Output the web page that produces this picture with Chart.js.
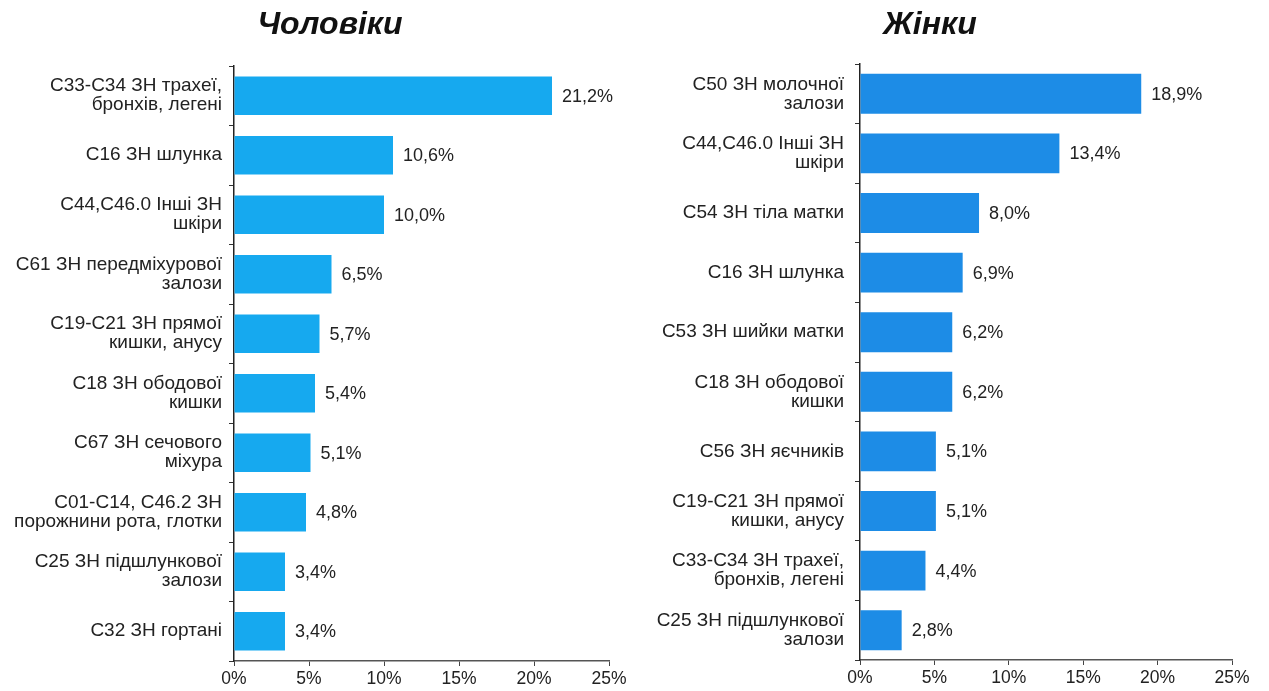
<!DOCTYPE html>
<html>
<head>
<meta charset="utf-8">
<script src="https://cdn.jsdelivr.net/npm/chart.js@4/dist/chart.umd.min.js"></script>
<style>
  html, body { margin: 0; padding: 0; background: #fff; }
  #wrap { position: relative; width: 1269px; height: 691px; }
  #menBox { position: absolute; left: 0; top: 0; width: 634px; height: 691px; }
  #womenBox { position: absolute; left: 634px; top: 0; width: 635px; height: 691px; }
</style>
</head>
<body>
<div id="wrap">
  <div id="menBox"><canvas id="menChart"></canvas></div>
  <div id="womenBox"><canvas id="womenChart"></canvas></div>
</div>
<script>
// Data
const menLabels = [
  ['С33-С34 ЗН трахеї,', 'бронхів, легені'],
  'С16 ЗН шлунка',
  ['С44,С46.0 Інші ЗН', 'шкіри'],
  ['С61 ЗН передміхурової', 'залози'],
  ['С19-С21 ЗН прямої', 'кишки, анусу'],
  ['С18 ЗН ободової', 'кишки'],
  ['С67 ЗН сечового', 'міхура'],
  ['С01-С14, С46.2 ЗН', 'порожнини рота, глотки'],
  ['С25 ЗН підшлункової', 'залози'],
  'С32 ЗН гортані'
];
const menValues = [21.2, 10.6, 10.0, 6.5, 5.7, 5.4, 5.1, 4.8, 3.4, 3.4];

const womenLabels = [
  ['С50 ЗН молочної', 'залози'],
  ['С44,С46.0 Інші ЗН', 'шкіри'],
  'С54 ЗН тіла матки',
  'С16 ЗН шлунка',
  'С53 ЗН шийки матки',
  ['С18 ЗН ободової', 'кишки'],
  'С56 ЗН яєчників',
  ['С19-С21 ЗН прямої', 'кишки, анусу'],
  ['С33-С34 ЗН трахеї,', 'бронхів, легені'],
  ['С25 ЗН підшлункової', 'залози']
];
const womenValues = [18.9, 13.4, 8.0, 6.9, 6.2, 6.2, 5.1, 5.1, 4.4, 2.8];

const xTicks = [0, 5, 10, 15, 20, 25];

const FONT = "'Liberation Sans', Arial, sans-serif";

// draws "21,2%" after each bar
const valueLabels = {
  id: 'valueLabels',
  afterDatasetsDraw(chart) {
    const ctx = chart.ctx;
    const meta = chart.getDatasetMeta(0);
    const data = chart.data.datasets[0].data;
    ctx.save();
    ctx.font = '18px ' + FONT;
    ctx.fillStyle = '#222';
    ctx.textAlign = 'left';
    ctx.textBaseline = 'middle';
    meta.data.forEach((bar, i) => {
      ctx.fillText(data[i].toFixed(1).replace('.', ',') + '%', bar.x + 10, bar.y + 1);
    });
    ctx.restore();
  }
};

// big italic heading
const heading = {
  id: 'heading',
  afterDraw(chart, args, opts) {
    const ctx = chart.ctx;
    ctx.save();
    ctx.font = 'italic bold 32px ' + FONT;
    ctx.fillStyle = '#111';
    ctx.textAlign = 'center';
    ctx.textBaseline = 'alphabetic';
    ctx.fillText(opts.text, opts.x, 34);
    ctx.restore();
  }
};

function makeChart(id, labels, values, color, cfg) {
  return new Chart(document.getElementById(id), {
    type: 'bar',
    data: {
      labels: labels,
      datasets: [{
        data: values,
        backgroundColor: color,
        borderWidth: 0,
        barPercentage: cfg.barPct,
        categoryPercentage: 1
      }]
    },
    options: {
      indexAxis: 'y',
      responsive: true,
      maintainAspectRatio: false,
      animation: false,
      layout: { padding: { top: cfg.top, right: cfg.right, left: 0, bottom: 0 } },
      plugins: {
        legend: { display: false },
        tooltip: { enabled: false },
        heading: { text: cfg.title, x: cfg.titleX }
      },
      scales: {
        x: {
          min: 0,
          max: 25,
          afterBuildTicks: s => { s.ticks = xTicks.map(v => ({ value: v })); },
          afterFit: s => { s.height = cfg.xHeight; },
          ticks: {
            color: '#222',
            padding: 3,
            font: { family: FONT, size: 17.5 },
            callback: v => v + '%'
          },
          grid: { drawOnChartArea: false, tickLength: 5, color: '#444' },
          border: { color: '#555', width: 1.5 }
        },
        y: {
          afterFit: s => { s.width = cfg.axisX; },
          ticks: {
            color: '#222',
            padding: cfg.labelPad,
            font: { family: FONT, size: 19, lineHeight: 1.0 }
          },
          grid: { drawOnChartArea: false, tickLength: 5, offset: true, color: '#333' },
          border: { color: '#222', width: 1.5 }
        }
      }
    },
    plugins: [valueLabels, heading]
  });
}

makeChart('menChart', menLabels, menValues, '#16a9ef', {
  title: 'Чоловіки', titleX: 330, top: 66, right: 25, xHeight: 30,
  axisX: 234, labelPad: 7, barPct: 0.65
});

makeChart('womenChart', womenLabels, womenValues, '#1d8ce6', {
  title: 'Жінки', titleX: 296, top: 64, right: 37, xHeight: 31,
  axisX: 226, labelPad: 11, barPct: 0.67
});
</script>
</body>
</html>
